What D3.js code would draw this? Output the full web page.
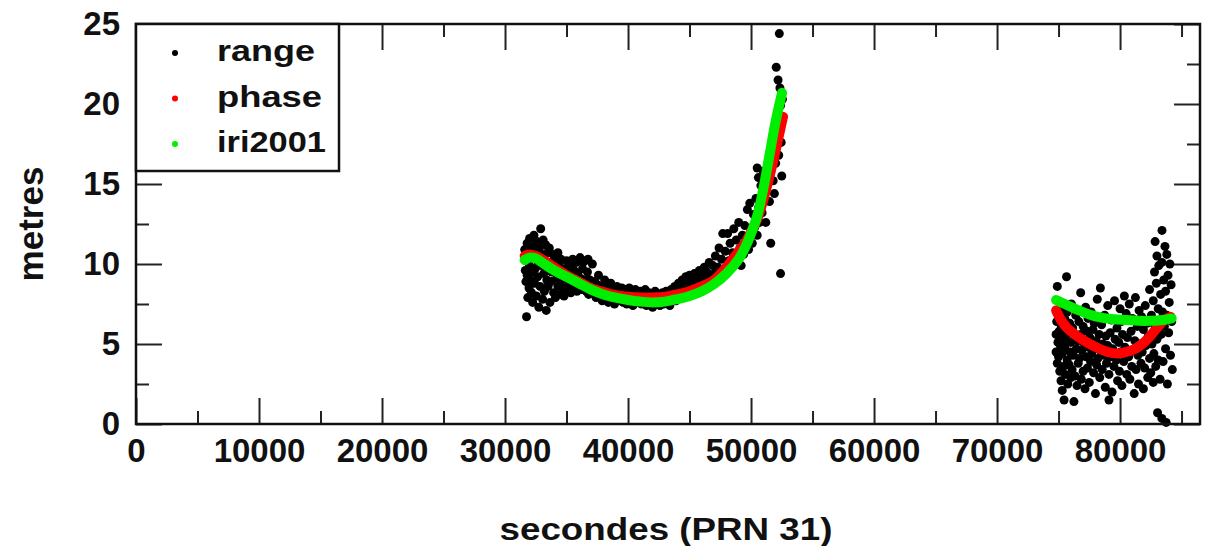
<!DOCTYPE html>
<meta charset="utf-8">
<script src="https://d3js.org/d3.v7.min.js"></script>
<style>
  body { margin: 0; background: #fff; }
</style>
<div id="chart"></div>
<script>

// range measurements (seconds, metres) - first pass
var range1 = [
  [31600,10.9],[31650,9.6],[31700,10.2],[31700,8.9],[31750,6.7],[31800,11.3],[31800,9.3],[31850,7.9],[31900,10.6],[31950,8.5],
  [32000,11.6],[32000,9.9],[32050,9.0],[32100,10.8],[32150,8.2],[32200,11.1],[32200,9.5],[32250,7.6],[32300,10.4],[32350,11.8],
  [32400,8.8],[32450,9.7],[32500,10.9],[32550,8.0],[32600,11.4],[32650,9.2],[32700,10.1],[32750,7.3],[32800,11.0],[32850,8.6],
  [32900,12.2],[32950,9.9],[33000,10.6],[33050,7.8],[33100,11.5],[33150,9.4],[33200,8.3],[33250,10.2],[33300,11.2],[33350,7.1],
  [33400,9.0],[33450,10.7],[33500,8.6],[33550,9.6],[33600,11.0],[33650,7.6],[33700,10.1],[33750,8.9],[33800,9.5],[33900,10.6],
  [33950,8.2],[34000,9.8],[34100,7.9],[34150,10.3],[34200,9.1],[34300,10.7],[34300,8.6],[34350,10.0],[34400,9.4],[34500,8.1],
  [34550,10.3],[34600,9.0],[34700,8.5],[34750,9.7],[34800,8.0],[34900,9.3],[35000,10.2],[35050,8.4],[35100,9.0],[35200,8.7],
  [35300,9.8],[35350,8.2],[35400,9.2],[35500,10.3],[35550,8.6],[35600,9.6],[35700,8.9],[35800,10.1],[35850,8.3],[35900,9.4],
  [36000,8.8],[36100,10.4],[36150,9.1],[36200,8.4],[36300,9.7],[36350,10.1],[36400,8.6],[36500,10.2],[36550,9.0],[36600,8.3],
  [36700,9.5],[36750,10.3],[36800,8.1],[36900,9.0],[37000,8.6],[37100,10.0],[37200,8.3],[37300,8.9],[37400,7.9],[37500,8.7],
  [37600,9.3],[37700,8.1],[37800,8.6],[37900,7.7],[38000,8.4],[38100,9.0],[38200,8.0],[38300,8.5],[38400,7.6],[38500,8.3],
  [38600,8.8],[38700,7.9],[38800,8.4],[38900,7.5],[39000,8.1],[39100,8.6],[39200,7.7],[39300,8.2],[39400,7.9],[39500,8.5],
  [39600,7.6],[39700,8.1],[39800,8.4],[39900,7.5],[40000,8.0],[40100,8.5],[40200,7.7],[40300,8.2],[40400,7.4],[40500,7.9],
  [40600,8.4],[40700,7.6],[40800,8.1],[40900,7.8],[41000,8.3],[41100,7.5],[41200,8.0],[41300,7.7],[41400,8.4],[41500,7.4],
  [41600,7.9],[41700,8.2],[41800,7.6],[41900,8.0],[42000,7.3],[42100,7.8],[42200,8.3],[42300,7.5],[42400,7.9],[42500,8.1],
  [42600,7.4],[42700,7.7],[42800,8.2],[42900,7.5],[43000,7.9],[43100,8.3],[43200,7.6],[43300,8.0],[43400,7.4],[43500,8.4],
  [43600,7.8],[43700,8.1],[43800,8.6],[43900,7.7],[44000,8.3],[44100,8.8],[44200,7.9],[44300,8.5],[44400,9.0],[44500,8.2],
  [44600,8.7],[44700,9.2],[44800,8.1],[44900,8.8],[45000,9.3],[45100,8.4],[45200,8.9],[45300,8.2],[45400,9.4],[45500,8.7],
  [45600,9.1],[45700,8.5],[45800,9.6],[45900,8.8],[46000,9.3],[46100,8.4],[46200,9.8],[46300,8.9],[46400,9.5],[46500,8.6],
  [46600,10.1],[46700,9.2],[46800,8.8],[46900,9.9],[47000,9.4],[47100,10.5],[47200,8.9],[47300,9.8],[47400,11.0],[47500,9.3],
  [47600,10.3],[47700,11.9],[47800,9.7],[47900,10.8],[48000,9.4],[48100,11.9],[48200,10.2],[48300,11.3],[48400,9.8],[48500,10.7],
  [48600,12.2],[48700,10.1],[48800,11.5],[48900,10.4],[49000,12.6],[49100,11.0],[49200,9.9],[49300,11.8],[49400,10.6],[49500,12.4],
  [49600,11.2],[49700,13.4],[49800,10.9],[49900,13.8],[50000,12.0],[50100,11.3],[50200,13.1],[50300,12.3],[50400,14.1],[50500,11.8],
  [50500,16.0],[50600,13.5],[50600,15.4],[50700,12.6],[50800,14.9],[50900,13.2],[51000,15.8],[51100,14.4],[51200,12.6],[51300,15.3],
  [51400,16.0],[51500,13.9],[51600,11.3],[51700,16.7],[51800,15.2],[51900,14.4],[51950,17.9],[52000,16.3],[52050,22.3],[52100,19.2],
  [52150,18.5],[52200,21.5],[52250,16.8],[52300,24.4],[52400,9.4],[52350,21.0],[52400,19.9],[52450,17.6],[52500,15.5],[52550,20.3]
];

var range2 = [
  [74800,5.6],[74800,4.5],[74850,6.4],[74900,3.8],[74900,8.6],[74950,5.1],[75000,4.2],[75000,6.9],[75050,5.8],[75100,3.3],
  [75100,7.6],[75150,4.9],[75200,2.7],[75200,6.2],[75250,5.4],[75300,2.1],[75300,4.4],[75350,7.2],[75400,3.6],[75400,5.9],
  [75450,1.5],[75500,4.8],[75500,6.6],[75550,3.1],[75600,5.3],[75650,9.2],[75700,4.0],[75700,7.0],[75750,2.5],[75800,5.7],
  [75850,3.7],[75900,6.3],[75950,4.5],[76000,2.9],[76000,5.1],[76050,7.5],[76100,3.4],[76150,6.0],[76200,4.3],[76250,1.4],
  [76300,5.5],[76350,3.0],[76400,6.8],[76450,4.7],[76500,2.4],[76550,5.2],[76600,3.8],[76650,6.4],[76700,4.1],[76800,8.2],
  [76800,5.6],[76850,2.8],[76900,4.6],[77000,3.3],[77000,6.1],[77100,5.0],[77150,2.2],[77200,7.3],[77250,4.2],[77300,5.8],
  [77350,3.5],[77400,6.6],[77450,4.8],[77500,2.6],[77550,5.4],[77600,3.9],[77650,7.0],[77700,4.4],[77800,5.9],[77850,3.2],
  [77900,6.3],[77950,4.7],[78000,1.9],[78050,5.2],[78100,3.7],[78150,7.8],[78200,4.1],[78300,5.6],[78350,2.9],[78400,8.5],
  [78400,4.6],[78500,6.2],[78550,3.4],[78600,5.0],[78700,4.3],[78750,6.8],[78800,2.3],[78850,5.5],[78900,3.8],[79000,7.4],
  [79000,4.9],[79100,1.5],[79100,3.1],[79200,5.7],[79250,4.2],[79300,6.5],[79350,2.0],[79400,4.7],[79500,3.6],[79550,7.7],
  [79600,5.3],[79700,4.0],[79750,6.0],[79800,2.7],[79900,5.1],[79950,3.3],[80000,7.2],[80050,4.5],[80100,6.4],[80150,2.4],
  [80200,5.6],[80300,3.9],[80350,8.0],[80400,4.8],[80500,6.9],[80550,3.1],[80600,5.4],[80700,4.2],[80750,7.5],[80800,2.8],
  [80900,5.8],[80950,3.6],[81000,6.6],[81100,4.6],[81150,1.9],[81200,5.2],[81250,7.9],[81300,3.4],[81400,6.1],[81450,4.3],
  [81500,2.5],[81550,7.1],[81600,5.0],[81700,3.8],[81750,6.7],[81800,4.5],[81900,2.2],[81900,5.9],[82000,3.5],[82050,7.4],
  [82100,4.9],[82200,6.3],[82250,2.9],[82300,5.5],[82400,8.4],[82400,4.1],[82500,3.2],[82550,6.8],[82600,5.0],[82700,7.7],
  [82700,2.6],[82750,4.4],[82800,9.5],[82850,6.1],[82850,11.4],[82900,3.6],[82950,8.8],[83000,5.3],[83000,10.5],[83050,0.7],
  [83100,7.2],[83100,4.0],[83150,9.9],[83200,6.5],[83250,2.8],[83300,8.1],[83350,5.6],[83400,0.35],[83400,10.1],[83410,12.1],
  [83450,7.0],[83500,3.9],[83550,9.0],[83600,6.1],[83650,11.1],[83700,4.7],[83700,8.3],[83750,0.1],[83800,10.6],[83800,6.8],
  [83850,2.5],[83900,9.3],[83950,5.7],[84000,7.6],[84050,10.0],[84100,4.3],[84150,8.7],[84200,6.4],[84250,3.4]
];

// phase curve, two passes
var phase1 = [[31600,10.5],[32000,10.6],[32500,10.5],[33000,10.3],[34000,9.8],[35000,9.3],[36000,8.9],[37000,8.5],
  [38000,8.25],[39000,8.05],[40000,7.95],[41000,7.9],[42000,7.9],[43000,7.95],[44000,8.1],[45000,8.3],[46000,8.6],
  [47000,9.0],[48000,9.8],[49000,10.8],[49500,11.3],[50000,12.0],[50500,12.8],[51000,14.0],[51700,16.1],[52200,17.8],[52600,19.2]];
var phase2 = [[74800,7.1],[75200,6.5],[75700,6.0],[76500,5.5],[77300,5.1],[78200,4.75],[79000,4.5],[79750,4.4],
  [80500,4.5],[81100,4.65],[81800,5.0],[82400,5.45],[83000,6.0],[83600,6.5],[84100,6.7]];

// iri2001 model, two passes
var iri1 = [[31600,10.25],[32000,10.4],[32500,10.35],[33000,10.1],[34000,9.6],[35000,9.2],[36000,8.8],[37000,8.4],
  [38000,8.1],[39000,7.9],[40000,7.75],[41000,7.65],[42000,7.6],[43000,7.65],[44000,7.8],[45000,8.0],[46000,8.3],
  [47000,8.75],[48000,9.4],[49000,10.3],[49500,11.0],[50000,11.9],[50500,13.0],[51000,14.7],[51500,16.8],[52000,18.9],[52520,20.7]];
var iri2 = [[74800,7.75],[75500,7.5],[76500,7.15],[77500,6.85],[78500,6.65],[79500,6.55],[80500,6.5],[81500,6.45],
  [82500,6.45],[83500,6.5],[84200,6.6]];

// ticks
var xMajor = [0,10000,20000,30000,40000,50000,60000,70000,80000];
var xMinor = [5000,15000,25000,35000,45000,55000,65000,75000,85000];
var yMajor = [0,5,10,15,20,25];
var yMinor = [2.5,7.5,12.5,17.5,22.5];
var legendNames = ["range","phase","iri2001"];
var legendColors = ["#000000","#ff0000","#00ee00"];

var margin = {top: 24, right: 5, bottom: 122, left: 136},
    width = 1205 - margin.left - margin.right,
    height = 546 - margin.top - margin.bottom;

var svg = d3.select("#chart")
  .append("svg")
    .attr("width", 1205)
    .attr("height", 546)
  .append("g")
    .attr("transform", "translate(" + margin.left + "," + margin.top + ")");

var x = d3.scaleLinear().domain([0, 86500]).range([0, width]);
var y = d3.scaleLinear().domain([0, 25]).range([height, 0]);

var font = "'Liberation Sans', Arial, sans-serif";

// axes with inward ticks on all four sides
function styleAxis(g) {
  g.select(".domain").remove();
  g.selectAll("line").attr("stroke", "#222").attr("stroke-width", 2);
  g.selectAll("text").attr("fill", "#111")
    .style("font-family", font).style("font-size", "33px").style("font-weight", "bold");
}
svg.append("g").attr("transform", "translate(0," + height + ")")
  .call(d3.axisBottom(x).tickValues(xMajor).tickSize(-26).tickPadding(15).tickFormat(d3.format("d")))
  .call(styleAxis);
svg.append("g").attr("transform", "translate(0," + height + ")")
  .call(d3.axisBottom(x).tickValues(xMinor).tickSize(-13).tickFormat(""))
  .call(styleAxis);
svg.append("g")
  .call(d3.axisTop(x).tickValues(xMajor).tickSize(-26).tickFormat(""))
  .call(styleAxis);
svg.append("g")
  .call(d3.axisTop(x).tickValues(xMinor).tickSize(-13).tickFormat(""))
  .call(styleAxis);
svg.append("g")
  .call(d3.axisLeft(y).tickValues(yMajor).tickSize(-26).tickPadding(16))
  .call(styleAxis);
svg.append("g")
  .call(d3.axisLeft(y).tickValues(yMinor).tickSize(-13).tickFormat(""))
  .call(styleAxis);
svg.append("g").attr("transform", "translate(" + width + ",0)")
  .call(d3.axisRight(y).tickValues(yMajor).tickSize(-26).tickFormat(""))
  .call(styleAxis);
svg.append("g").attr("transform", "translate(" + width + ",0)")
  .call(d3.axisRight(y).tickValues(yMinor).tickSize(-13).tickFormat(""))
  .call(styleAxis);

// range dots
svg.append("g")
  .selectAll("circle")
  .data(range1.concat(range2))
  .enter()
  .append("circle")
    .attr("cx", function(d) { return x(d[0]) })
    .attr("cy", function(d) { return y(d[1]) })
    .attr("r", 4.5)
    .attr("fill", "#000");

// phase and iri2001 curves
var line = d3.line()
  .x(function(d) { return x(d[0]) })
  .y(function(d) { return y(d[1]) })
  .curve(d3.curveCatmullRom);

[phase1, phase2].forEach(function(seg) {
  svg.append("path").datum(seg).attr("d", line)
    .attr("fill", "none").attr("stroke", "#ff0000").attr("stroke-width", 10).attr("stroke-linecap", "round");
});
[iri1, iri2].forEach(function(seg) {
  svg.append("path").datum(seg).attr("d", line)
    .attr("fill", "none").attr("stroke", "#00ee00").attr("stroke-width", 10).attr("stroke-linecap", "round");
});

// frame
svg.append("rect")
  .attr("width", width).attr("height", height)
  .attr("fill", "none").attr("stroke", "#111").attr("stroke-width", 2.5);

// legend
var legend = svg.append("g");
legend.append("rect")
  .attr("x", 0).attr("y", 0).attr("width", 203).attr("height", 147)
  .attr("fill", "#fff").attr("stroke", "#111").attr("stroke-width", 2.5);
var legendW = [98, 105, 109];
legendNames.forEach(function(name, i) {
  var cy = 29 + i * 45.5;
  legend.append("circle").attr("cx", 39).attr("cy", cy).attr("r", 3).attr("fill", legendColors[i]);
  legend.append("text")
    .attr("x", 81).attr("y", cy + 8)
    .attr("textLength", legendW[i]).attr("lengthAdjust", "spacingAndGlyphs")
    .style("font-family", font).style("font-size", "30px").style("font-weight", "bold")
    .attr("fill", "#111")
    .text(name);
});

// axis titles
svg.append("text")
  .attr("transform", "translate(" + (31 - margin.left) + "," + (height / 2) + ") rotate(-90)")
  .attr("text-anchor", "middle")
  .attr("dy", "0.35em")
  .style("font-family", font).style("font-size", "35px").style("font-weight", "bold")
  .attr("fill", "#111")
  .text("metres");

var xt = svg.append("text")
  .attr("x", 666 - margin.left).attr("y", 540 - margin.top)
  .attr("text-anchor", "middle")
  .attr("textLength", 333).attr("lengthAdjust", "spacingAndGlyphs")
  .style("font-family", font).style("font-size", "32px").style("font-weight", "bold")
  .attr("fill", "#111");
xt.append("tspan").text("secondes (");
xt.append("tspan").style("font-weight", "900").text("PRN");
xt.append("tspan").text(" 31)");

</script>
